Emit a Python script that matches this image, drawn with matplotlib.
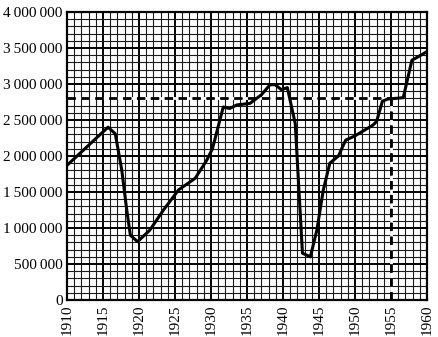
import numpy as np
import matplotlib
matplotlib.use('Agg')
import matplotlib.pyplot as plt
from matplotlib.ticker import MultipleLocator, FuncFormatter

# population curve (year, people)
years = [1910, 1912.8, 1915.7, 1916.7, 1917.6, 1918.3, 1918.8, 1919.8, 1921.5, 1923.4,
         1925.5, 1927.8, 1929.4, 1930.2, 1931.7, 1932.6, 1933.6, 1935.4, 1937.0,
         1938.2, 1938.9, 1939.8, 1940.6, 1941.7, 1942.7, 1943.8, 1944.7, 1945.6,
         1946.5, 1947.7, 1948.7, 1950.0, 1952.5, 1953.0, 1953.8, 1954.5, 1956.7,
         1957.9, 1958.8, 1960]
values = [1870000, 2130000, 2400000, 2310000, 1810000, 1250000, 900000, 810000, 970000, 1250000,
          1530000, 1690000, 1940000, 2100000, 2680000, 2660000, 2710000, 2730000, 2850000,
          2990000, 2990000, 2920000, 2950000, 2450000, 650000, 600000, 970000, 1530000,
          1900000, 2000000, 2220000, 2280000, 2430000, 2480000, 2760000, 2790000, 2810000,
          3330000, 3380000, 3450000]

ref_year = 1955
ref_value = 2800000

x_ticks = list(range(1910, 1961, 5))
y_ticks = list(range(0, 4000001, 500000))

plt.rcParams['font.family'] = ['Liberation Serif', 'DejaVu Serif']

fig = plt.figure(figsize=(4.39, 3.37), dpi=100)
ax = fig.add_axes([0.1526, 0.1098, 0.8201, 0.8546])

ax.set_xlim(1910, 1960)
ax.set_ylim(0, 4000000)

ax.xaxis.set_minor_locator(MultipleLocator(1))
ax.yaxis.set_minor_locator(MultipleLocator(100000))
ax.set_xticks(x_ticks)
ax.set_yticks(y_ticks)

ax.grid(which='minor', color='#1a1a1a', lw=0.8)
ax.grid(which='major', color='black', lw=1.4)
ax.set_axisbelow(True)

ax.plot(years, values, color='black', lw=2.2, solid_joinstyle='round', zorder=3)

# dashed guide lines, white gaps so they read over the grid
ax.plot([1910, ref_year], [ref_value, ref_value], color='black', lw=2.0,
        dashes=(3, 2), gapcolor='white', zorder=2)
ax.plot([ref_year, ref_year], [0, ref_value], color='black', lw=2.0,
        dashes=(3, 2), gapcolor='white', zorder=2)

ax.yaxis.set_major_formatter(FuncFormatter(lambda v, p: f'{int(v):,}'.replace(',', '\u2009')))
ax.tick_params(axis='both', which='both', length=0, labelsize=11)
ax.tick_params(axis='x', pad=3)
ax.tick_params(axis='y', pad=3)
for lbl in ax.get_xticklabels():
    lbl.set_rotation(90)

for s in ax.spines.values():
    s.set_linewidth(1.6)
    s.set_color('black')

plt.savefig('out.png', dpi=100)
